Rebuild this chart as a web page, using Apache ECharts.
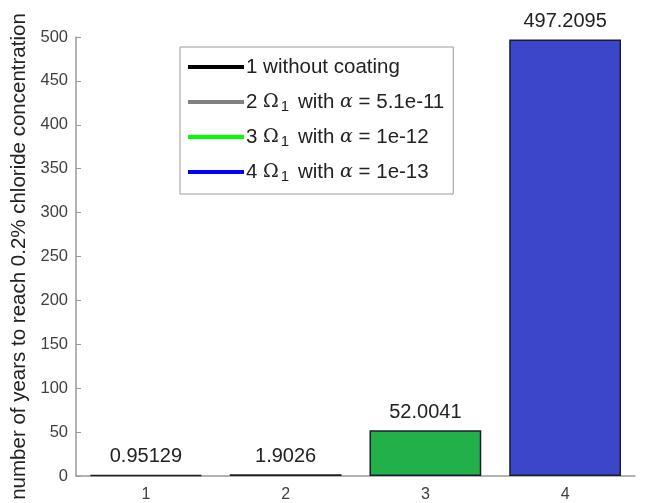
<!DOCTYPE html>
<html>
<head>
<meta charset="utf-8">
<title>years to reach 0.2% chloride</title>
<script src="https://cdn.jsdelivr.net/npm/echarts@6/dist/echarts.min.js"></script>
<style>
  html, body { margin: 0; padding: 0; background: #fff; }
  #chart { width: 645px; height: 503px; }
</style>
</head>
<body>
<div id="chart"></div>
<script>
// data
var categories = ['1', '2', '3', '4'];
var years = [0.95129, 1.9026, 52.0041, 497.2095];
var yearLabels = ['0.95129', '1.9026', '52.0041', '497.2095'];
var legendNames = ['c1', 'c2', 'c3', 'c4'];
var legendTexts = [
  '1 without coating',
  '2 {om|Ω}{sub|1} with {al|α} = 5.1e-11',
  '3 {om|Ω}{sub|1} with {al|α} = 1e-12',
  '4 {om|Ω}{sub|1} with {al|α} = 1e-13'
];

var barFill = ['#000000', '#8c8c8c', '#22b04b', '#3c46c8'];
var legendLine = ['#000000', '#808080', '#00ff00', '#0000ff'];
var font = '"Liberation Sans", Arial, sans-serif';

var myChart = echarts.init(document.getElementById('chart'));

var barData = years.map(function (v, i) {
  return {
    value: v,
    itemStyle: { color: barFill[i], borderColor: '#1c1c30', borderWidth: 1.5 }
  };
});

var series = [{
  name: 'bars',
  type: 'bar',
  data: barData,
  barCategoryGap: '20%',
  label: {
    show: true,
    position: 'top',
    distance: 8,
    fontFamily: font,
    fontSize: 20,
    color: '#222',
    formatter: function (p) { return yearLabels[p.dataIndex]; }
  }
}];

// dummy line series only for the legend entries
legendNames.forEach(function (n, i) {
  series.push({
    name: n,
    type: 'line',
    data: [],
    color: legendLine[i],
    lineStyle: { color: legendLine[i], width: 4 }
  });
});

var rich = {
  om: { fontFamily: '"DejaVu Serif", serif', fontSize: 19, color: '#222', lineHeight: 24, padding: [0, 1, 0, 0] },
  sub: { fontFamily: font, fontSize: 15, color: '#222', lineHeight: 14, verticalAlign: 'bottom', padding: [10, 3, 0, 1] },
  al: { fontFamily: '"DejaVu Serif", serif', fontStyle: 'italic', fontSize: 19, color: '#222', lineHeight: 24 }
};

myChart.setOption({
  animation: false,
  textStyle: { fontFamily: font },
  grid: { left: 76, right: 10, top: 37, bottom: 26, containLabel: false },
  legend: {
    data: legendNames,
    orient: 'vertical',
    left: 180,
    top: 47,
    icon: 'rect',
    itemWidth: 56,
    itemHeight: 4,
    itemGap: 10,
    padding: [8, 9, 10, 8],
    backgroundColor: '#fff',
    borderColor: '#9a9a9a',
    borderWidth: 1,
    borderRadius: 0,
    textStyle: {
      fontFamily: font,
      fontSize: 20.5,
      color: '#222',
      lineHeight: 24,
      padding: [0, 0, 0, -3],
      rich: rich
    },
    formatter: function (name) {
      return legendTexts[legendNames.indexOf(name)];
    }
  },
  xAxis: {
    type: 'category',
    data: categories,
    axisLine: { lineStyle: { color: '#999', width: 1.5 } },
    axisTick: { inside: true, alignWithLabel: true, length: 5, lineStyle: { color: '#707070' } },
    axisLabel: { fontSize: 16, color: '#404040', margin: 11 }
  },
  yAxis: {
    type: 'value',
    min: 0,
    max: 500,
    interval: 50,
    name: 'number of years to reach 0.2% chloride concentration',
    nameLocation: 'middle',
    nameGap: 40,
    nameTextStyle: { fontSize: 20.5, color: '#222', fontFamily: font },
    axisLine: { show: true, lineStyle: { color: '#999', width: 1.5 } },
    axisTick: { show: true, inside: true, length: 5, lineStyle: { color: '#999' } },
    axisLabel: { fontSize: 16.5, color: '#404040', margin: 8 },
    splitLine: { show: false }
  },
  series: series
});
</script>
</body>
</html>
